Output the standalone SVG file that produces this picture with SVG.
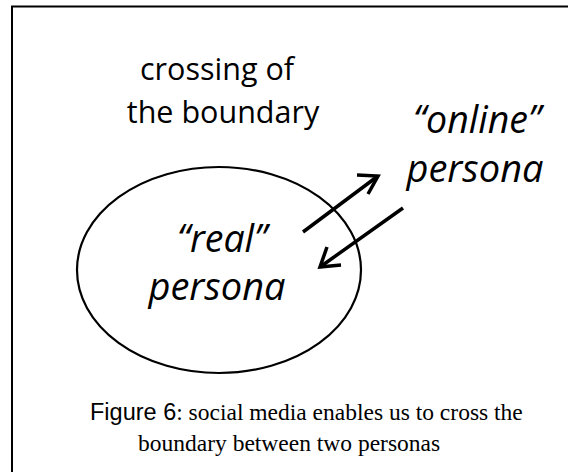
<svg xmlns="http://www.w3.org/2000/svg" width="568" height="472" viewBox="0 0 568 472">
<style>
.lbl{font-family:"Open Sans","Noto Sans",sans-serif;fill:#000;}
.it{font-style:italic;}
.cap{font-family:"Liberation Serif","Times New Roman",serif;font-size:23.5px;fill:#000;}
.arial{font-family:"Liberation Sans",Arial,sans-serif;}
.arrow{stroke:#000;stroke-width:3.5;fill:none;stroke-linecap:butt;}
</style>
<rect x="0" y="0" width="568" height="472" fill="#fff"/>
<rect x="12" y="6.5" width="620" height="520" fill="none" stroke="#000" stroke-width="2"/>
<g id="boundary-label">
<text class="lbl" x="217" y="80" font-size="30.5" text-anchor="middle">crossing of</text>
<text class="lbl" x="223" y="123" font-size="30.5" text-anchor="middle">the boundary</text>
</g>
<g id="real-persona">
<ellipse cx="219" cy="270" rx="142" ry="103" fill="none" stroke="#000" stroke-width="2.2"/>
<text class="lbl it" x="222" y="252" font-size="37.5" text-anchor="middle">“real”</text>
<text class="lbl it" x="217" y="300" font-size="38" text-anchor="middle">persona</text>
</g>
<g id="online-persona">
<text class="lbl it" x="477" y="133" font-size="37.5" text-anchor="middle">“online”</text>
<text class="lbl it" x="475" y="182" font-size="38" text-anchor="middle">persona</text>
</g>
<g id="connectors">
<path d="M303,232 L378,176" class="arrow"/>
<path d="M357,175 L378,176 L368,194" class="arrow"/>
<path d="M403,208 L320,267" class="arrow"/>
<path d="M327,247 L320,267 L341,265" class="arrow"/>
</g>
<g id="caption">
<text class="cap" x="90" y="420"><tspan class="arial">Figure 6</tspan>: social media enables us to cross the</text>
<text class="cap" x="138" y="451">boundary between two personas</text>
</g>
</svg>
